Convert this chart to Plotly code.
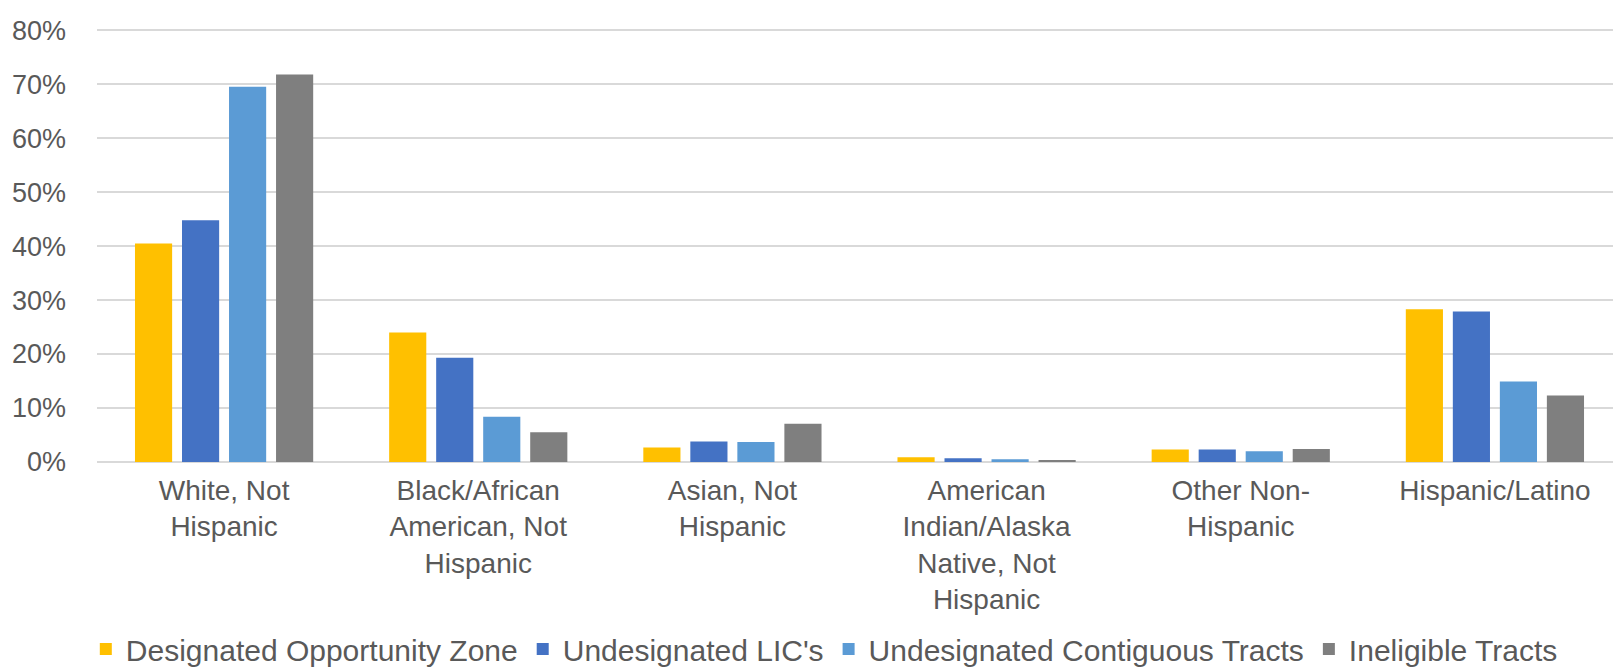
import plotly.graph_objects as go

# categories on the x axis
categories = [
    "White, Not<br>Hispanic",
    "Black/African<br>American, Not<br>Hispanic",
    "Asian, Not<br>Hispanic",
    "American<br>Indian/Alaska<br>Native, Not<br>Hispanic",
    "Other Non-<br>Hispanic",
    "Hispanic/Latino",
]

# share of population (%) per tract type
designated_oz = [40.5, 24.0, 2.7, 0.9, 2.3, 28.3]
undesignated_lic = [44.8, 19.3, 3.8, 0.7, 2.3, 27.9]
undesignated_contig = [69.5, 8.4, 3.7, 0.5, 2.0, 14.9]
ineligible = [71.8, 5.5, 7.1, 0.3, 2.4, 12.3]

series = [
    ("Designated Opportunity Zone", designated_oz, "#FFC000"),
    ("Undesignated LIC's", undesignated_lic, "#4472C4"),
    ("Undesignated Contiguous Tracts", undesignated_contig, "#5B9BD5"),
    ("Ineligible Tracts", ineligible, "#7F7F7F"),
]

fig = go.Figure()
for name, vals, color in series:
    fig.add_trace(go.Bar(x=categories, y=vals, name=name,
                         marker=dict(color=color, line=dict(width=0))))

font_color = "#595959"
fig.update_layout(
    width=1621, height=667,
    margin=dict(l=89, r=7, t=20, b=213, autoexpand=False),
    barmode="group",
    bargap=0.26,
    bargroupgap=0.21,
    plot_bgcolor="white",
    paper_bgcolor="white",
    font=dict(family="Liberation Sans, Arial, sans-serif", size=28, color=font_color),
    showlegend=True,
    legend=dict(
        orientation="h",
        xref="container", x=0.048, xanchor="left",
        y=-0.431, yanchor="middle",
        font=dict(size=30, color=font_color),
        itemwidth=30,
        tracegroupgap=0,
    ),
)

fig.update_yaxes(
    range=[0, 80.4],
    tick0=0,
    dtick=10,
    ticksuffix="%",
    tickfont=dict(size=27),
    showgrid=True,
    gridcolor="#D9D9D9",
    gridwidth=1.5,
    zeroline=True,
    zerolinecolor="#D9D9D9",
    zerolinewidth=1.5,
    showline=False,
    ticks="",
    ticklabelstandoff=30,
)

fig.update_xaxes(
    showgrid=False,
    showline=False,
    ticks="",
    tickangle=0,
    ticklabelstandoff=9,
)

fig.write_html("out.html")
